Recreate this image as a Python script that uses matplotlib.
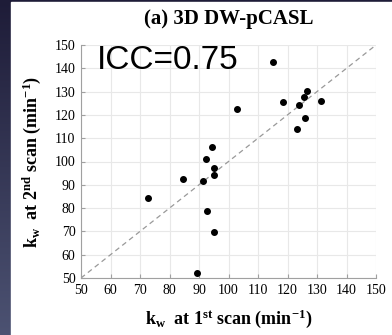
import matplotlib
matplotlib.use("Agg")
import matplotlib.pyplot as plt
import numpy as np

# k_w values (min^-1)
scan1 = [115, 103, 118.6, 126.6, 125.6, 124, 131.5, 125.9, 123.3,
         94.3, 92.4, 95, 95.1, 91.4, 84.5, 72.6, 92.6, 95, 89.3]
scan2 = [142.7, 122.5, 125.4, 130.3, 127.8, 124.1, 126, 118.5, 114,
         106.2, 101, 97, 94.2, 91.5, 92.4, 84.2, 78.8, 69.9, 52]
ticks = list(range(50, 151, 10))
icc_text = "ICC=0.75"

plt.rcParams['mathtext.fontset'] = 'custom'
plt.rcParams['mathtext.rm'] = 'Liberation Serif:bold'
plt.rcParams['mathtext.bf'] = 'Liberation Serif:bold'
plt.rcParams['mathtext.it'] = 'Liberation Serif:bold'

W, H = 392, 335
fig = plt.figure(figsize=(W / 100, H / 100), dpi=100)
fig.patch.set_facecolor('#1e1c38')

# slide background: dark gradient strip on the left, white panel
bg = fig.add_axes([0, 0, 1, 1])
grad = np.linspace(0, 1, 256).reshape(-1, 1)
bg.imshow(grad, aspect='auto', extent=[0, 1, 0, 1], origin='upper',
          cmap=matplotlib.colors.LinearSegmentedColormap.from_list('s', ['#1e1c38', '#4c5272']))
bg.add_patch(plt.Rectangle((11 / W, 0), 1, 1 - 2 / H, color='white'))
bg.set_xlim(0, 1)
bg.set_ylim(0, 1)
bg.axis('off')

ax = fig.add_axes([81 / W, 57 / H, 295 / W, 233 / H])
ax.set_xlim(50, 150)
ax.set_ylim(50, 150)
ax.set_xticks(ticks)
ax.set_yticks(ticks)
ax.grid(True, color='#e8e8e8', linewidth=0.8)
ax.set_axisbelow(True)
for s in ['top', 'right']:
    ax.spines[s].set_visible(False)
for s in ['left', 'bottom']:
    ax.spines[s].set_color('#a0a0a0')
    ax.spines[s].set_linewidth(0.8)
ax.tick_params(direction='in', length=3, color='#a0a0a0', labelsize=10, pad=4)
for lbl in ax.get_xticklabels() + ax.get_yticklabels():
    lbl.set_family('Liberation Serif')

ax.plot([50, 150], [50, 150], linestyle=(0, (4, 3)), color='#999999', linewidth=0.9)
ax.scatter(scan1, scan2, s=16, color='black', zorder=3)

ax.text(0.055, 0.935, icc_text, transform=ax.transAxes, fontsize=24,
        family='Liberation Sans', va='center', ha='left')

ax.set_title('(a) 3D DW-pCASL', family='Liberation Serif', fontweight='bold',
             fontsize=15, pad=15)
ax.set_xlabel(r'$\mathrm{k_w}$  at 1$^{\mathrm{st}}$ scan (min$^{\mathrm{-1}}$)',
              family='Liberation Serif', fontweight='bold', fontsize=13, labelpad=8)
ax.set_ylabel(r'$\mathrm{k_w}$  at 2$^{\mathrm{nd}}$ scan (min$^{\mathrm{-1}}$)',
              family='Liberation Serif', fontweight='bold', fontsize=13, labelpad=8)

fig.savefig('out.png', dpi=100)
